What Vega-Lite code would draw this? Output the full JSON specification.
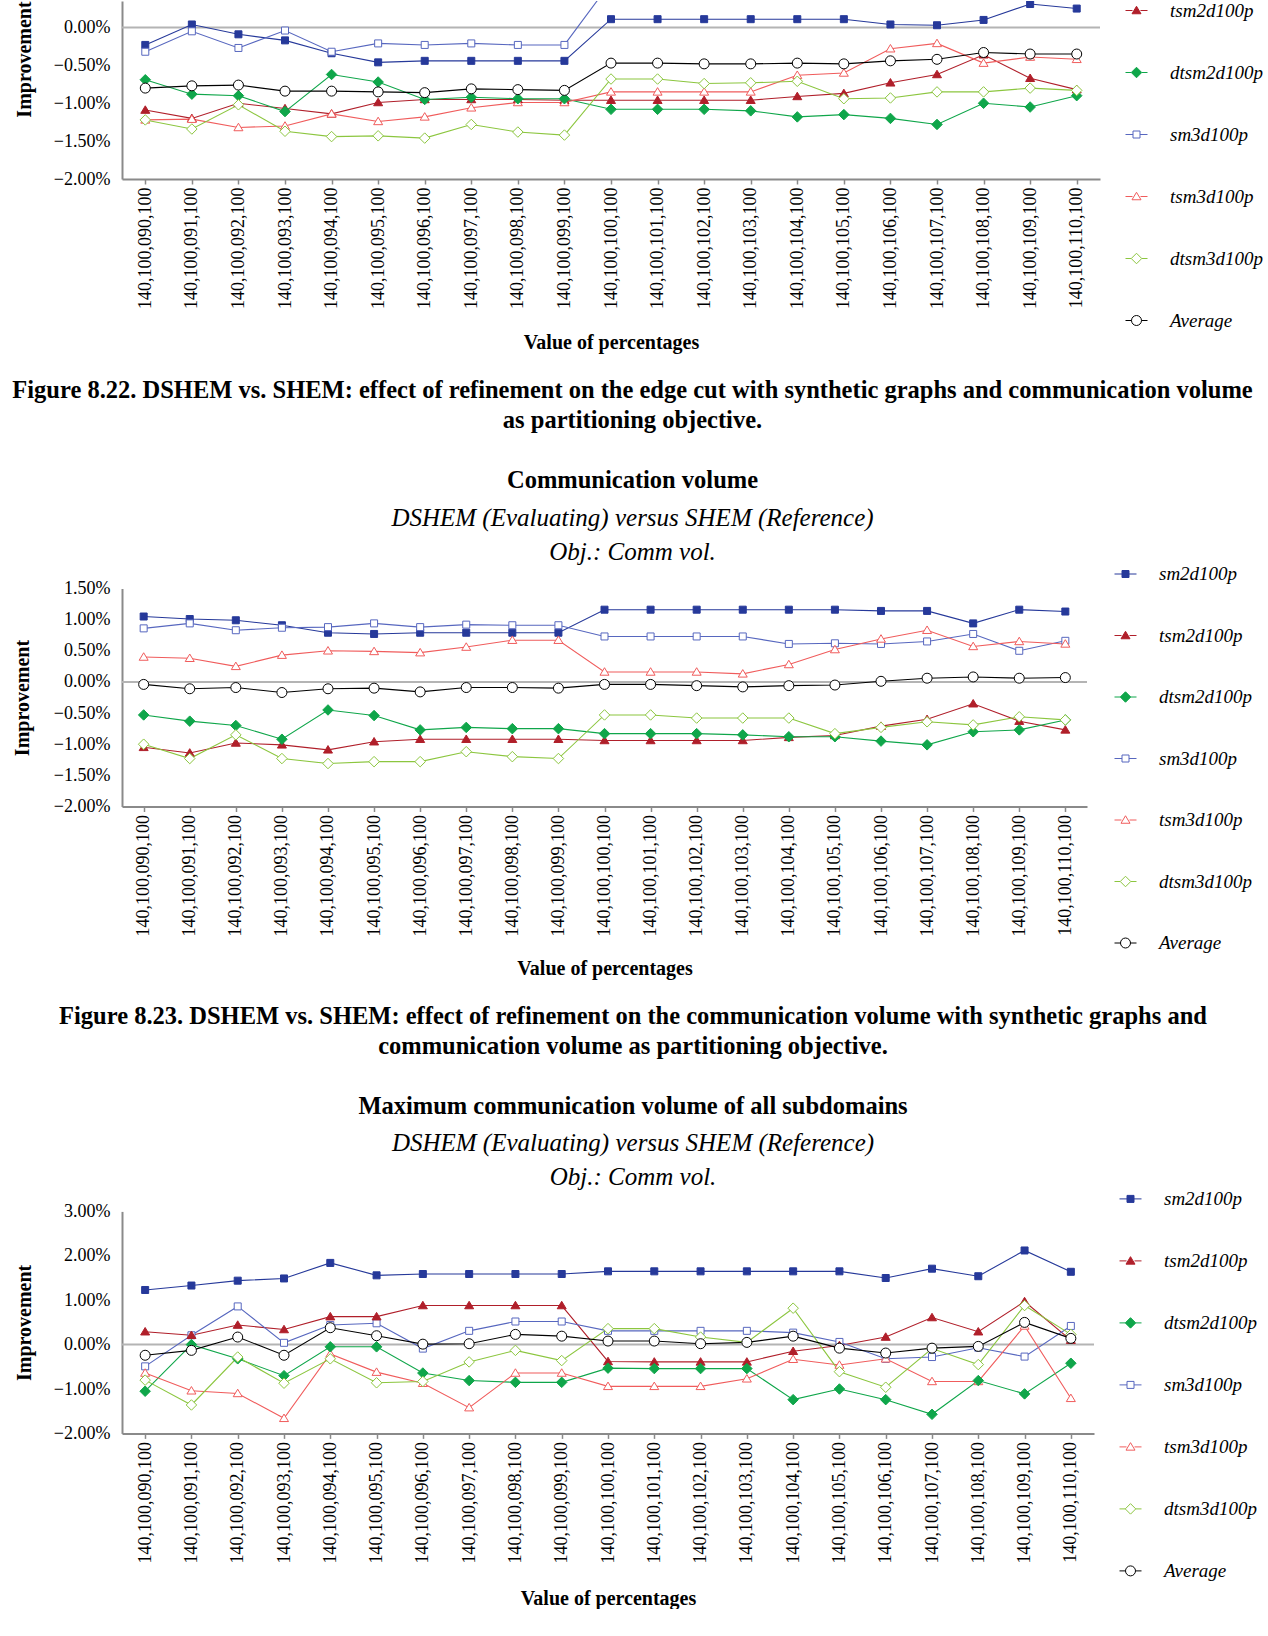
{
"$schema": "https://vega.github.io/schema/vega-lite/v6.json",
"background": "white",
"padding": {"left": 12, "top": 0, "right": 0, "bottom": 0},
"bounds": "flush",
"spacing": 409.5,
"resolve": {"scale": {"stroke": "independent", "fill": "independent", "x": "independent", "y": "independent"}},
"config": {
  "view": {"stroke": null},
  "font": "Liberation Serif",
  "axis": {"labelFont": "Liberation Serif", "titleFont": "Liberation Serif", "labelColor": "black", "titleColor": "black", "domainColor": "#8a8a8a", "domainWidth": 2, "tickColor": "#8a8a8a", "grid": false, "titleFontWeight": "bold", "titleFontSize": 20, "labelFontSize": 18},
  "axisX": {"labelAngle": -90, "tickSize": 5, "tickWidth": 1.5, "labelPadding": 3, "titlePadding": 24, "labelOverlap": false},
  "axisY": {"ticks": false, "labelPadding": 12, "titlePadding": 19},
  "legend": {"orient": "none", "labelFont": "Liberation Serif", "labelFontStyle": "italic", "labelFontSize": 19, "labelColor": "black", "symbolSize": 100, "symbolStrokeWidth": 1, "rowPadding": 42, "labelOffset": 24, "padding": 0}
},
"datasets": {
"p1": [
{"c":"140,100,090,100","s":"sm2d100p","v":-0.23},{"c":"140,100,091,100","s":"sm2d100p","v":0.04},{"c":"140,100,092,100","s":"sm2d100p","v":-0.09},{"c":"140,100,093,100","s":"sm2d100p","v":-0.17},{"c":"140,100,094,100","s":"sm2d100p","v":-0.34},{"c":"140,100,095,100","s":"sm2d100p","v":-0.46},{"c":"140,100,096,100","s":"sm2d100p","v":-0.44},{"c":"140,100,097,100","s":"sm2d100p","v":-0.44},{"c":"140,100,098,100","s":"sm2d100p","v":-0.44},{"c":"140,100,099,100","s":"sm2d100p","v":-0.44},{"c":"140,100,100,100","s":"sm2d100p","v":0.11},{"c":"140,100,101,100","s":"sm2d100p","v":0.11},{"c":"140,100,102,100","s":"sm2d100p","v":0.11},{"c":"140,100,103,100","s":"sm2d100p","v":0.11},{"c":"140,100,104,100","s":"sm2d100p","v":0.11},{"c":"140,100,105,100","s":"sm2d100p","v":0.11},{"c":"140,100,106,100","s":"sm2d100p","v":0.04},{"c":"140,100,107,100","s":"sm2d100p","v":0.03},{"c":"140,100,108,100","s":"sm2d100p","v":0.1},{"c":"140,100,109,100","s":"sm2d100p","v":0.31},{"c":"140,100,110,100","s":"sm2d100p","v":0.25},
{"c":"140,100,090,100","s":"tsm2d100p","v":-1.09},{"c":"140,100,091,100","s":"tsm2d100p","v":-1.2},{"c":"140,100,092,100","s":"tsm2d100p","v":-1.0},{"c":"140,100,093,100","s":"tsm2d100p","v":-1.07},{"c":"140,100,094,100","s":"tsm2d100p","v":-1.14},{"c":"140,100,095,100","s":"tsm2d100p","v":-0.99},{"c":"140,100,096,100","s":"tsm2d100p","v":-0.95},{"c":"140,100,097,100","s":"tsm2d100p","v":-0.95},{"c":"140,100,098,100","s":"tsm2d100p","v":-0.95},{"c":"140,100,099,100","s":"tsm2d100p","v":-0.96},{"c":"140,100,100,100","s":"tsm2d100p","v":-0.96},{"c":"140,100,101,100","s":"tsm2d100p","v":-0.96},{"c":"140,100,102,100","s":"tsm2d100p","v":-0.96},{"c":"140,100,103,100","s":"tsm2d100p","v":-0.96},{"c":"140,100,104,100","s":"tsm2d100p","v":-0.91},{"c":"140,100,105,100","s":"tsm2d100p","v":-0.87},{"c":"140,100,106,100","s":"tsm2d100p","v":-0.73},{"c":"140,100,107,100","s":"tsm2d100p","v":-0.62},{"c":"140,100,108,100","s":"tsm2d100p","v":-0.36},{"c":"140,100,109,100","s":"tsm2d100p","v":-0.67},{"c":"140,100,110,100","s":"tsm2d100p","v":-0.82},
{"c":"140,100,090,100","s":"dtsm2d100p","v":-0.69},{"c":"140,100,091,100","s":"dtsm2d100p","v":-0.88},{"c":"140,100,092,100","s":"dtsm2d100p","v":-0.9},{"c":"140,100,093,100","s":"dtsm2d100p","v":-1.11},{"c":"140,100,094,100","s":"dtsm2d100p","v":-0.62},{"c":"140,100,095,100","s":"dtsm2d100p","v":-0.72},{"c":"140,100,096,100","s":"dtsm2d100p","v":-0.95},{"c":"140,100,097,100","s":"dtsm2d100p","v":-0.92},{"c":"140,100,098,100","s":"dtsm2d100p","v":-0.94},{"c":"140,100,099,100","s":"dtsm2d100p","v":-0.94},{"c":"140,100,100,100","s":"dtsm2d100p","v":-1.08},{"c":"140,100,101,100","s":"dtsm2d100p","v":-1.08},{"c":"140,100,102,100","s":"dtsm2d100p","v":-1.08},{"c":"140,100,103,100","s":"dtsm2d100p","v":-1.1},{"c":"140,100,104,100","s":"dtsm2d100p","v":-1.18},{"c":"140,100,105,100","s":"dtsm2d100p","v":-1.15},{"c":"140,100,106,100","s":"dtsm2d100p","v":-1.2},{"c":"140,100,107,100","s":"dtsm2d100p","v":-1.28},{"c":"140,100,108,100","s":"dtsm2d100p","v":-1.0},{"c":"140,100,109,100","s":"dtsm2d100p","v":-1.05},{"c":"140,100,110,100","s":"dtsm2d100p","v":-0.9},
{"c":"140,100,090,100","s":"sm3d100p","v":-0.32},{"c":"140,100,091,100","s":"sm3d100p","v":-0.05},{"c":"140,100,092,100","s":"sm3d100p","v":-0.27},{"c":"140,100,093,100","s":"sm3d100p","v":-0.04},{"c":"140,100,094,100","s":"sm3d100p","v":-0.32},{"c":"140,100,095,100","s":"sm3d100p","v":-0.21},{"c":"140,100,096,100","s":"sm3d100p","v":-0.23},{"c":"140,100,097,100","s":"sm3d100p","v":-0.21},{"c":"140,100,098,100","s":"sm3d100p","v":-0.23},{"c":"140,100,099,100","s":"sm3d100p","v":-0.23},{"c":"140,100,100,100","s":"sm3d100p","v":0.6},{"c":"140,100,101,100","s":"sm3d100p","v":0.6},{"c":"140,100,102,100","s":"sm3d100p","v":0.6},{"c":"140,100,103,100","s":"sm3d100p","v":0.6},{"c":"140,100,104,100","s":"sm3d100p","v":0.55},{"c":"140,100,105,100","s":"sm3d100p","v":0.55},{"c":"140,100,106,100","s":"sm3d100p","v":0.55},{"c":"140,100,107,100","s":"sm3d100p","v":0.58},{"c":"140,100,108,100","s":"sm3d100p","v":0.65},{"c":"140,100,109,100","s":"sm3d100p","v":0.45},{"c":"140,100,110,100","s":"sm3d100p","v":0.55},
{"c":"140,100,090,100","s":"tsm3d100p","v":-1.22},{"c":"140,100,091,100","s":"tsm3d100p","v":-1.21},{"c":"140,100,092,100","s":"tsm3d100p","v":-1.32},{"c":"140,100,093,100","s":"tsm3d100p","v":-1.3},{"c":"140,100,094,100","s":"tsm3d100p","v":-1.14},{"c":"140,100,095,100","s":"tsm3d100p","v":-1.24},{"c":"140,100,096,100","s":"tsm3d100p","v":-1.18},{"c":"140,100,097,100","s":"tsm3d100p","v":-1.06},{"c":"140,100,098,100","s":"tsm3d100p","v":-0.99},{"c":"140,100,099,100","s":"tsm3d100p","v":-0.99},{"c":"140,100,100,100","s":"tsm3d100p","v":-0.85},{"c":"140,100,101,100","s":"tsm3d100p","v":-0.85},{"c":"140,100,102,100","s":"tsm3d100p","v":-0.85},{"c":"140,100,103,100","s":"tsm3d100p","v":-0.85},{"c":"140,100,104,100","s":"tsm3d100p","v":-0.63},{"c":"140,100,105,100","s":"tsm3d100p","v":-0.6},{"c":"140,100,106,100","s":"tsm3d100p","v":-0.28},{"c":"140,100,107,100","s":"tsm3d100p","v":-0.21},{"c":"140,100,108,100","s":"tsm3d100p","v":-0.47},{"c":"140,100,109,100","s":"tsm3d100p","v":-0.39},{"c":"140,100,110,100","s":"tsm3d100p","v":-0.42},
{"c":"140,100,090,100","s":"dtsm3d100p","v":-1.22},{"c":"140,100,091,100","s":"dtsm3d100p","v":-1.34},{"c":"140,100,092,100","s":"dtsm3d100p","v":-1.02},{"c":"140,100,093,100","s":"dtsm3d100p","v":-1.37},{"c":"140,100,094,100","s":"dtsm3d100p","v":-1.44},{"c":"140,100,095,100","s":"dtsm3d100p","v":-1.43},{"c":"140,100,096,100","s":"dtsm3d100p","v":-1.46},{"c":"140,100,097,100","s":"dtsm3d100p","v":-1.28},{"c":"140,100,098,100","s":"dtsm3d100p","v":-1.38},{"c":"140,100,099,100","s":"dtsm3d100p","v":-1.42},{"c":"140,100,100,100","s":"dtsm3d100p","v":-0.68},{"c":"140,100,101,100","s":"dtsm3d100p","v":-0.68},{"c":"140,100,102,100","s":"dtsm3d100p","v":-0.74},{"c":"140,100,103,100","s":"dtsm3d100p","v":-0.73},{"c":"140,100,104,100","s":"dtsm3d100p","v":-0.71},{"c":"140,100,105,100","s":"dtsm3d100p","v":-0.94},{"c":"140,100,106,100","s":"dtsm3d100p","v":-0.93},{"c":"140,100,107,100","s":"dtsm3d100p","v":-0.85},{"c":"140,100,108,100","s":"dtsm3d100p","v":-0.85},{"c":"140,100,109,100","s":"dtsm3d100p","v":-0.8},{"c":"140,100,110,100","s":"dtsm3d100p","v":-0.83},
{"c":"140,100,090,100","s":"Average","v":-0.8},{"c":"140,100,091,100","s":"Average","v":-0.77},{"c":"140,100,092,100","s":"Average","v":-0.76},{"c":"140,100,093,100","s":"Average","v":-0.84},{"c":"140,100,094,100","s":"Average","v":-0.84},{"c":"140,100,095,100","s":"Average","v":-0.85},{"c":"140,100,096,100","s":"Average","v":-0.86},{"c":"140,100,097,100","s":"Average","v":-0.81},{"c":"140,100,098,100","s":"Average","v":-0.82},{"c":"140,100,099,100","s":"Average","v":-0.83},{"c":"140,100,100,100","s":"Average","v":-0.47},{"c":"140,100,101,100","s":"Average","v":-0.47},{"c":"140,100,102,100","s":"Average","v":-0.48},{"c":"140,100,103,100","s":"Average","v":-0.48},{"c":"140,100,104,100","s":"Average","v":-0.47},{"c":"140,100,105,100","s":"Average","v":-0.48},{"c":"140,100,106,100","s":"Average","v":-0.44},{"c":"140,100,107,100","s":"Average","v":-0.42},{"c":"140,100,108,100","s":"Average","v":-0.33},{"c":"140,100,109,100","s":"Average","v":-0.35},{"c":"140,100,110,100","s":"Average","v":-0.35}
],
"p2": [
{"c":"140,100,090,100","s":"sm2d100p","v":1.05},{"c":"140,100,091,100","s":"sm2d100p","v":1.01},{"c":"140,100,092,100","s":"sm2d100p","v":0.99},{"c":"140,100,093,100","s":"sm2d100p","v":0.91},{"c":"140,100,094,100","s":"sm2d100p","v":0.79},{"c":"140,100,095,100","s":"sm2d100p","v":0.77},{"c":"140,100,096,100","s":"sm2d100p","v":0.79},{"c":"140,100,097,100","s":"sm2d100p","v":0.79},{"c":"140,100,098,100","s":"sm2d100p","v":0.79},{"c":"140,100,099,100","s":"sm2d100p","v":0.79},{"c":"140,100,100,100","s":"sm2d100p","v":1.16},{"c":"140,100,101,100","s":"sm2d100p","v":1.16},{"c":"140,100,102,100","s":"sm2d100p","v":1.16},{"c":"140,100,103,100","s":"sm2d100p","v":1.16},{"c":"140,100,104,100","s":"sm2d100p","v":1.16},{"c":"140,100,105,100","s":"sm2d100p","v":1.16},{"c":"140,100,106,100","s":"sm2d100p","v":1.14},{"c":"140,100,107,100","s":"sm2d100p","v":1.14},{"c":"140,100,108,100","s":"sm2d100p","v":0.94},{"c":"140,100,109,100","s":"sm2d100p","v":1.16},{"c":"140,100,110,100","s":"sm2d100p","v":1.13},
{"c":"140,100,090,100","s":"tsm2d100p","v":-1.05},{"c":"140,100,091,100","s":"tsm2d100p","v":-1.14},{"c":"140,100,092,100","s":"tsm2d100p","v":-0.98},{"c":"140,100,093,100","s":"tsm2d100p","v":-1.01},{"c":"140,100,094,100","s":"tsm2d100p","v":-1.09},{"c":"140,100,095,100","s":"tsm2d100p","v":-0.96},{"c":"140,100,096,100","s":"tsm2d100p","v":-0.92},{"c":"140,100,097,100","s":"tsm2d100p","v":-0.92},{"c":"140,100,098,100","s":"tsm2d100p","v":-0.92},{"c":"140,100,099,100","s":"tsm2d100p","v":-0.92},{"c":"140,100,100,100","s":"tsm2d100p","v":-0.94},{"c":"140,100,101,100","s":"tsm2d100p","v":-0.94},{"c":"140,100,102,100","s":"tsm2d100p","v":-0.94},{"c":"140,100,103,100","s":"tsm2d100p","v":-0.94},{"c":"140,100,104,100","s":"tsm2d100p","v":-0.89},{"c":"140,100,105,100","s":"tsm2d100p","v":-0.86},{"c":"140,100,106,100","s":"tsm2d100p","v":-0.71},{"c":"140,100,107,100","s":"tsm2d100p","v":-0.6},{"c":"140,100,108,100","s":"tsm2d100p","v":-0.35},{"c":"140,100,109,100","s":"tsm2d100p","v":-0.63},{"c":"140,100,110,100","s":"tsm2d100p","v":-0.77},
{"c":"140,100,090,100","s":"dtsm2d100p","v":-0.53},{"c":"140,100,091,100","s":"dtsm2d100p","v":-0.63},{"c":"140,100,092,100","s":"dtsm2d100p","v":-0.7},{"c":"140,100,093,100","s":"dtsm2d100p","v":-0.92},{"c":"140,100,094,100","s":"dtsm2d100p","v":-0.45},{"c":"140,100,095,100","s":"dtsm2d100p","v":-0.54},{"c":"140,100,096,100","s":"dtsm2d100p","v":-0.77},{"c":"140,100,097,100","s":"dtsm2d100p","v":-0.73},{"c":"140,100,098,100","s":"dtsm2d100p","v":-0.75},{"c":"140,100,099,100","s":"dtsm2d100p","v":-0.75},{"c":"140,100,100,100","s":"dtsm2d100p","v":-0.83},{"c":"140,100,101,100","s":"dtsm2d100p","v":-0.83},{"c":"140,100,102,100","s":"dtsm2d100p","v":-0.83},{"c":"140,100,103,100","s":"dtsm2d100p","v":-0.85},{"c":"140,100,104,100","s":"dtsm2d100p","v":-0.88},{"c":"140,100,105,100","s":"dtsm2d100p","v":-0.88},{"c":"140,100,106,100","s":"dtsm2d100p","v":-0.95},{"c":"140,100,107,100","s":"dtsm2d100p","v":-1.01},{"c":"140,100,108,100","s":"dtsm2d100p","v":-0.8},{"c":"140,100,109,100","s":"dtsm2d100p","v":-0.77},{"c":"140,100,110,100","s":"dtsm2d100p","v":-0.61},
{"c":"140,100,090,100","s":"sm3d100p","v":0.86},{"c":"140,100,091,100","s":"sm3d100p","v":0.94},{"c":"140,100,092,100","s":"sm3d100p","v":0.83},{"c":"140,100,093,100","s":"sm3d100p","v":0.87},{"c":"140,100,094,100","s":"sm3d100p","v":0.88},{"c":"140,100,095,100","s":"sm3d100p","v":0.94},{"c":"140,100,096,100","s":"sm3d100p","v":0.88},{"c":"140,100,097,100","s":"sm3d100p","v":0.92},{"c":"140,100,098,100","s":"sm3d100p","v":0.91},{"c":"140,100,099,100","s":"sm3d100p","v":0.91},{"c":"140,100,100,100","s":"sm3d100p","v":0.73},{"c":"140,100,101,100","s":"sm3d100p","v":0.73},{"c":"140,100,102,100","s":"sm3d100p","v":0.73},{"c":"140,100,103,100","s":"sm3d100p","v":0.73},{"c":"140,100,104,100","s":"sm3d100p","v":0.61},{"c":"140,100,105,100","s":"sm3d100p","v":0.62},{"c":"140,100,106,100","s":"sm3d100p","v":0.61},{"c":"140,100,107,100","s":"sm3d100p","v":0.65},{"c":"140,100,108,100","s":"sm3d100p","v":0.77},{"c":"140,100,109,100","s":"sm3d100p","v":0.5},{"c":"140,100,110,100","s":"sm3d100p","v":0.66},
{"c":"140,100,090,100","s":"tsm3d100p","v":0.4},{"c":"140,100,091,100","s":"tsm3d100p","v":0.38},{"c":"140,100,092,100","s":"tsm3d100p","v":0.25},{"c":"140,100,093,100","s":"tsm3d100p","v":0.43},{"c":"140,100,094,100","s":"tsm3d100p","v":0.5},{"c":"140,100,095,100","s":"tsm3d100p","v":0.49},{"c":"140,100,096,100","s":"tsm3d100p","v":0.47},{"c":"140,100,097,100","s":"tsm3d100p","v":0.56},{"c":"140,100,098,100","s":"tsm3d100p","v":0.67},{"c":"140,100,099,100","s":"tsm3d100p","v":0.67},{"c":"140,100,100,100","s":"tsm3d100p","v":0.16},{"c":"140,100,101,100","s":"tsm3d100p","v":0.16},{"c":"140,100,102,100","s":"tsm3d100p","v":0.16},{"c":"140,100,103,100","s":"tsm3d100p","v":0.13},{"c":"140,100,104,100","s":"tsm3d100p","v":0.28},{"c":"140,100,105,100","s":"tsm3d100p","v":0.52},{"c":"140,100,106,100","s":"tsm3d100p","v":0.69},{"c":"140,100,107,100","s":"tsm3d100p","v":0.83},{"c":"140,100,108,100","s":"tsm3d100p","v":0.57},{"c":"140,100,109,100","s":"tsm3d100p","v":0.65},{"c":"140,100,110,100","s":"tsm3d100p","v":0.61},
{"c":"140,100,090,100","s":"dtsm3d100p","v":-1.0},{"c":"140,100,091,100","s":"dtsm3d100p","v":-1.23},{"c":"140,100,092,100","s":"dtsm3d100p","v":-0.85},{"c":"140,100,093,100","s":"dtsm3d100p","v":-1.23},{"c":"140,100,094,100","s":"dtsm3d100p","v":-1.31},{"c":"140,100,095,100","s":"dtsm3d100p","v":-1.28},{"c":"140,100,096,100","s":"dtsm3d100p","v":-1.28},{"c":"140,100,097,100","s":"dtsm3d100p","v":-1.12},{"c":"140,100,098,100","s":"dtsm3d100p","v":-1.2},{"c":"140,100,099,100","s":"dtsm3d100p","v":-1.23},{"c":"140,100,100,100","s":"dtsm3d100p","v":-0.53},{"c":"140,100,101,100","s":"dtsm3d100p","v":-0.53},{"c":"140,100,102,100","s":"dtsm3d100p","v":-0.58},{"c":"140,100,103,100","s":"dtsm3d100p","v":-0.58},{"c":"140,100,104,100","s":"dtsm3d100p","v":-0.58},{"c":"140,100,105,100","s":"dtsm3d100p","v":-0.83},{"c":"140,100,106,100","s":"dtsm3d100p","v":-0.73},{"c":"140,100,107,100","s":"dtsm3d100p","v":-0.64},{"c":"140,100,108,100","s":"dtsm3d100p","v":-0.69},{"c":"140,100,109,100","s":"dtsm3d100p","v":-0.56},{"c":"140,100,110,100","s":"dtsm3d100p","v":-0.61},
{"c":"140,100,090,100","s":"Average","v":-0.04},{"c":"140,100,091,100","s":"Average","v":-0.11},{"c":"140,100,092,100","s":"Average","v":-0.09},{"c":"140,100,093,100","s":"Average","v":-0.17},{"c":"140,100,094,100","s":"Average","v":-0.11},{"c":"140,100,095,100","s":"Average","v":-0.1},{"c":"140,100,096,100","s":"Average","v":-0.16},{"c":"140,100,097,100","s":"Average","v":-0.09},{"c":"140,100,098,100","s":"Average","v":-0.09},{"c":"140,100,099,100","s":"Average","v":-0.1},{"c":"140,100,100,100","s":"Average","v":-0.04},{"c":"140,100,101,100","s":"Average","v":-0.04},{"c":"140,100,102,100","s":"Average","v":-0.06},{"c":"140,100,103,100","s":"Average","v":-0.08},{"c":"140,100,104,100","s":"Average","v":-0.06},{"c":"140,100,105,100","s":"Average","v":-0.05},{"c":"140,100,106,100","s":"Average","v":0.01},{"c":"140,100,107,100","s":"Average","v":0.06},{"c":"140,100,108,100","s":"Average","v":0.08},{"c":"140,100,109,100","s":"Average","v":0.06},{"c":"140,100,110,100","s":"Average","v":0.07}
],
"p3": [
{"c":"140,100,090,100","s":"sm2d100p","v":1.23},{"c":"140,100,091,100","s":"sm2d100p","v":1.33},{"c":"140,100,092,100","s":"sm2d100p","v":1.44},{"c":"140,100,093,100","s":"sm2d100p","v":1.49},{"c":"140,100,094,100","s":"sm2d100p","v":1.84},{"c":"140,100,095,100","s":"sm2d100p","v":1.56},{"c":"140,100,096,100","s":"sm2d100p","v":1.59},{"c":"140,100,097,100","s":"sm2d100p","v":1.59},{"c":"140,100,098,100","s":"sm2d100p","v":1.59},{"c":"140,100,099,100","s":"sm2d100p","v":1.59},{"c":"140,100,100,100","s":"sm2d100p","v":1.65},{"c":"140,100,101,100","s":"sm2d100p","v":1.65},{"c":"140,100,102,100","s":"sm2d100p","v":1.65},{"c":"140,100,103,100","s":"sm2d100p","v":1.65},{"c":"140,100,104,100","s":"sm2d100p","v":1.65},{"c":"140,100,105,100","s":"sm2d100p","v":1.65},{"c":"140,100,106,100","s":"sm2d100p","v":1.5},{"c":"140,100,107,100","s":"sm2d100p","v":1.71},{"c":"140,100,108,100","s":"sm2d100p","v":1.54},{"c":"140,100,109,100","s":"sm2d100p","v":2.12},{"c":"140,100,110,100","s":"sm2d100p","v":1.64},
{"c":"140,100,090,100","s":"tsm2d100p","v":0.29},{"c":"140,100,091,100","s":"tsm2d100p","v":0.21},{"c":"140,100,092,100","s":"tsm2d100p","v":0.44},{"c":"140,100,093,100","s":"tsm2d100p","v":0.34},{"c":"140,100,094,100","s":"tsm2d100p","v":0.63},{"c":"140,100,095,100","s":"tsm2d100p","v":0.63},{"c":"140,100,096,100","s":"tsm2d100p","v":0.88},{"c":"140,100,097,100","s":"tsm2d100p","v":0.88},{"c":"140,100,098,100","s":"tsm2d100p","v":0.88},{"c":"140,100,099,100","s":"tsm2d100p","v":0.88},{"c":"140,100,100,100","s":"tsm2d100p","v":-0.38},{"c":"140,100,101,100","s":"tsm2d100p","v":-0.39},{"c":"140,100,102,100","s":"tsm2d100p","v":-0.39},{"c":"140,100,103,100","s":"tsm2d100p","v":-0.39},{"c":"140,100,104,100","s":"tsm2d100p","v":-0.15},{"c":"140,100,105,100","s":"tsm2d100p","v":-0.02},{"c":"140,100,106,100","s":"tsm2d100p","v":0.17},{"c":"140,100,107,100","s":"tsm2d100p","v":0.61},{"c":"140,100,108,100","s":"tsm2d100p","v":0.29},{"c":"140,100,109,100","s":"tsm2d100p","v":0.97},{"c":"140,100,110,100","s":"tsm2d100p","v":0.1},
{"c":"140,100,090,100","s":"dtsm2d100p","v":-1.05},{"c":"140,100,091,100","s":"dtsm2d100p","v":0.0},{"c":"140,100,092,100","s":"dtsm2d100p","v":-0.32},{"c":"140,100,093,100","s":"dtsm2d100p","v":-0.7},{"c":"140,100,094,100","s":"dtsm2d100p","v":-0.05},{"c":"140,100,095,100","s":"dtsm2d100p","v":-0.05},{"c":"140,100,096,100","s":"dtsm2d100p","v":-0.64},{"c":"140,100,097,100","s":"dtsm2d100p","v":-0.81},{"c":"140,100,098,100","s":"dtsm2d100p","v":-0.85},{"c":"140,100,099,100","s":"dtsm2d100p","v":-0.85},{"c":"140,100,100,100","s":"dtsm2d100p","v":-0.53},{"c":"140,100,101,100","s":"dtsm2d100p","v":-0.54},{"c":"140,100,102,100","s":"dtsm2d100p","v":-0.54},{"c":"140,100,103,100","s":"dtsm2d100p","v":-0.54},{"c":"140,100,104,100","s":"dtsm2d100p","v":-1.24},{"c":"140,100,105,100","s":"dtsm2d100p","v":-1.0},{"c":"140,100,106,100","s":"dtsm2d100p","v":-1.24},{"c":"140,100,107,100","s":"dtsm2d100p","v":-1.57},{"c":"140,100,108,100","s":"dtsm2d100p","v":-0.81},{"c":"140,100,109,100","s":"dtsm2d100p","v":-1.11},{"c":"140,100,110,100","s":"dtsm2d100p","v":-0.42},
{"c":"140,100,090,100","s":"sm3d100p","v":-0.49},{"c":"140,100,091,100","s":"sm3d100p","v":0.21},{"c":"140,100,092,100","s":"sm3d100p","v":0.86},{"c":"140,100,093,100","s":"sm3d100p","v":0.04},{"c":"140,100,094,100","s":"sm3d100p","v":0.44},{"c":"140,100,095,100","s":"sm3d100p","v":0.48},{"c":"140,100,096,100","s":"sm3d100p","v":-0.09},{"c":"140,100,097,100","s":"sm3d100p","v":0.31},{"c":"140,100,098,100","s":"sm3d100p","v":0.52},{"c":"140,100,099,100","s":"sm3d100p","v":0.52},{"c":"140,100,100,100","s":"sm3d100p","v":0.31},{"c":"140,100,101,100","s":"sm3d100p","v":0.31},{"c":"140,100,102,100","s":"sm3d100p","v":0.31},{"c":"140,100,103,100","s":"sm3d100p","v":0.31},{"c":"140,100,104,100","s":"sm3d100p","v":0.27},{"c":"140,100,105,100","s":"sm3d100p","v":0.06},{"c":"140,100,106,100","s":"sm3d100p","v":-0.32},{"c":"140,100,107,100","s":"sm3d100p","v":-0.28},{"c":"140,100,108,100","s":"sm3d100p","v":-0.07},{"c":"140,100,109,100","s":"sm3d100p","v":-0.27},{"c":"140,100,110,100","s":"sm3d100p","v":0.42},
{"c":"140,100,090,100","s":"tsm3d100p","v":-0.64},{"c":"140,100,091,100","s":"tsm3d100p","v":-1.04},{"c":"140,100,092,100","s":"tsm3d100p","v":-1.1},{"c":"140,100,093,100","s":"tsm3d100p","v":-1.66},{"c":"140,100,094,100","s":"tsm3d100p","v":-0.21},{"c":"140,100,095,100","s":"tsm3d100p","v":-0.62},{"c":"140,100,096,100","s":"tsm3d100p","v":-0.87},{"c":"140,100,097,100","s":"tsm3d100p","v":-1.42},{"c":"140,100,098,100","s":"tsm3d100p","v":-0.64},{"c":"140,100,099,100","s":"tsm3d100p","v":-0.64},{"c":"140,100,100,100","s":"tsm3d100p","v":-0.94},{"c":"140,100,101,100","s":"tsm3d100p","v":-0.94},{"c":"140,100,102,100","s":"tsm3d100p","v":-0.94},{"c":"140,100,103,100","s":"tsm3d100p","v":-0.77},{"c":"140,100,104,100","s":"tsm3d100p","v":-0.33},{"c":"140,100,105,100","s":"tsm3d100p","v":-0.46},{"c":"140,100,106,100","s":"tsm3d100p","v":-0.32},{"c":"140,100,107,100","s":"tsm3d100p","v":-0.83},{"c":"140,100,108,100","s":"tsm3d100p","v":-0.83},{"c":"140,100,109,100","s":"tsm3d100p","v":0.42},{"c":"140,100,110,100","s":"tsm3d100p","v":-1.21},
{"c":"140,100,090,100","s":"dtsm3d100p","v":-0.8},{"c":"140,100,091,100","s":"dtsm3d100p","v":-1.36},{"c":"140,100,092,100","s":"dtsm3d100p","v":-0.28},{"c":"140,100,093,100","s":"dtsm3d100p","v":-0.87},{"c":"140,100,094,100","s":"dtsm3d100p","v":-0.32},{"c":"140,100,095,100","s":"dtsm3d100p","v":-0.86},{"c":"140,100,096,100","s":"dtsm3d100p","v":-0.83},{"c":"140,100,097,100","s":"dtsm3d100p","v":-0.39},{"c":"140,100,098,100","s":"dtsm3d100p","v":-0.13},{"c":"140,100,099,100","s":"dtsm3d100p","v":-0.36},{"c":"140,100,100,100","s":"dtsm3d100p","v":0.36},{"c":"140,100,101,100","s":"dtsm3d100p","v":0.36},{"c":"140,100,102,100","s":"dtsm3d100p","v":0.17},{"c":"140,100,103,100","s":"dtsm3d100p","v":0.05},{"c":"140,100,104,100","s":"dtsm3d100p","v":0.82},{"c":"140,100,105,100","s":"dtsm3d100p","v":-0.61},{"c":"140,100,106,100","s":"dtsm3d100p","v":-0.96},{"c":"140,100,107,100","s":"dtsm3d100p","v":-0.09},{"c":"140,100,108,100","s":"dtsm3d100p","v":-0.45},{"c":"140,100,109,100","s":"dtsm3d100p","v":0.88},{"c":"140,100,110,100","s":"dtsm3d100p","v":0.23},
{"c":"140,100,090,100","s":"Average","v":-0.24},{"c":"140,100,091,100","s":"Average","v":-0.13},{"c":"140,100,092,100","s":"Average","v":0.17},{"c":"140,100,093,100","s":"Average","v":-0.24},{"c":"140,100,094,100","s":"Average","v":0.38},{"c":"140,100,095,100","s":"Average","v":0.2},{"c":"140,100,096,100","s":"Average","v":0.01},{"c":"140,100,097,100","s":"Average","v":0.02},{"c":"140,100,098,100","s":"Average","v":0.23},{"c":"140,100,099,100","s":"Average","v":0.19},{"c":"140,100,100,100","s":"Average","v":0.08},{"c":"140,100,101,100","s":"Average","v":0.08},{"c":"140,100,102,100","s":"Average","v":0.02},{"c":"140,100,103,100","s":"Average","v":0.05},{"c":"140,100,104,100","s":"Average","v":0.19},{"c":"140,100,105,100","s":"Average","v":-0.08},{"c":"140,100,106,100","s":"Average","v":-0.19},{"c":"140,100,107,100","s":"Average","v":-0.08},{"c":"140,100,108,100","s":"Average","v":-0.04},{"c":"140,100,109,100","s":"Average","v":0.5},{"c":"140,100,110,100","s":"Average","v":0.14}
]
},
"vconcat": [
{
 "width": 978, "height": 178,
 "layer": [
  {"data": {"values": [{"v": 0}]}, "mark": {"type": "rule", "color": "#b4b4b4", "strokeWidth": 2}, "encoding": {"y": {"field": "v", "type": "quantitative", "scale": {"domain": [-2, 0.35], "nice": false, "zero": false}, "axis": {"title": "Improvement", "values": [-2, -1.5, -1, -0.5, 0], "format": ".2f", "labelExpr": "datum.label + '%'", "titleY": 58}}}},
  {"data": {"name": "p1"},
   "encoding": {
    "x": {"field": "c", "type": "ordinal", "scale": {"type": "point", "padding": 0.5}, "axis": {"title": "Value of percentages"}},
    "y": {"field": "v", "type": "quantitative", "scale": {"domain": [-2, 0.35], "nice": false, "zero": false}, "axis": {"title": "Improvement", "values": [-2, -1.5, -1, -0.5, 0], "format": ".2f", "labelExpr": "datum.label + '%'", "titleY": 58}},
    "stroke": {"field": "s", "type": "nominal", "scale": {"domain": ["sm2d100p","tsm2d100p","dtsm2d100p","sm3d100p","tsm3d100p","dtsm3d100p","Average"], "range": ["#26399a","#b01f2a","#0fa64a","#5767bf","#f05c5c","#8cc63f","#000000"]},
      "legend": {"title": null, "values": ["tsm2d100p","dtsm2d100p","sm3d100p","tsm3d100p","dtsm3d100p","Average"], "legendX": 1005, "legendY": 0,
        "encode": {"symbols": {"update": {"shape": {"signal": "datum.value === 'Average' ? 'M-2.2,0H-1M1,0H2.2M1,0A1,1,0,1,1,-1,0A1,1,0,1,1,1,0Z' : indexof(datum.value, 'dtsm') === 0 ? 'M-2.2,0H-1.05M1.05,0H2.2M0,-1.05L1.05,0L0,1.05L-1.05,0Z' : indexof(datum.value, 'tsm') === 0 ? 'M-2.2,0H-0.8M0.8,0H2.2M0,-0.85L0.9,0.65H-0.9Z' : 'M-2.2,0H-0.7M0.7,0H2.2M-0.7,-0.7H0.7V0.7H-0.7Z'"}}}}}}
   },
   "layer": [
    {"mark": {"type": "line", "strokeWidth": 1.1, "clip": true}, "encoding": {}},
    {"transform": [{"filter": {"field": "s", "oneOf": ["sm2d100p", "sm3d100p"]}}], "mark": {"type": "point", "shape": "M-0.7,-0.7H0.7V0.7H-0.7Z", "filled": true, "opacity": 1, "size": 100, "strokeWidth": 1, "clip": true},
     "encoding": {"fill": {"field": "s", "type": "nominal", "scale": {"domain": ["sm2d100p","tsm2d100p","dtsm2d100p","sm3d100p","tsm3d100p","dtsm3d100p","Average"], "range": ["#26399a","#b01f2a","#0fa64a","#ffffff","#ffffff","#ffffff","#ffffff"]}}}},
    {"transform": [{"filter": {"field": "s", "oneOf": ["tsm2d100p", "tsm3d100p"]}}], "mark": {"type": "point", "shape": "M0,-0.85L0.9,0.65H-0.9Z", "filled": true, "opacity": 1, "size": 100, "strokeWidth": 1, "clip": true},
     "encoding": {"fill": {"field": "s", "type": "nominal", "scale": {"domain": ["sm2d100p","tsm2d100p","dtsm2d100p","sm3d100p","tsm3d100p","dtsm3d100p","Average"], "range": ["#26399a","#b01f2a","#0fa64a","#ffffff","#ffffff","#ffffff","#ffffff"]}}}},
    {"transform": [{"filter": {"field": "s", "oneOf": ["dtsm2d100p", "dtsm3d100p"]}}], "mark": {"type": "point", "shape": "M0,-1.05L1.05,0L0,1.05L-1.05,0Z", "filled": true, "opacity": 1, "size": 100, "strokeWidth": 1, "clip": true},
     "encoding": {"fill": {"field": "s", "type": "nominal", "scale": {"domain": ["sm2d100p","tsm2d100p","dtsm2d100p","sm3d100p","tsm3d100p","dtsm3d100p","Average"], "range": ["#26399a","#b01f2a","#0fa64a","#ffffff","#ffffff","#ffffff","#ffffff"]}}}},
    {"transform": [{"filter": {"field": "s", "oneOf": ["Average"]}}], "mark": {"type": "point", "shape": "M1,0A1,1,0,1,1,-1,0A1,1,0,1,1,1,0Z", "filled": true, "opacity": 1, "size": 100, "strokeWidth": 1, "clip": true},
     "encoding": {"fill": {"field": "s", "type": "nominal", "scale": {"domain": ["sm2d100p","tsm2d100p","dtsm2d100p","sm3d100p","tsm3d100p","dtsm3d100p","Average"], "range": ["#26399a","#b01f2a","#0fa64a","#ffffff","#ffffff","#ffffff","#ffffff"]}}}}
   ]
  }
 ]
},
{
 "spacing": 404.9,
 "bounds": "flush",
 "resolve": {"scale": {"stroke": "independent", "fill": "independent", "x": "independent", "y": "independent"}},
 "vconcat": [
 {
  "width": 965, "height": 218,
  "title": {"text": ["Figure 8.22. DSHEM vs. SHEM: effect of refinement on the edge cut with synthetic graphs and communication volume", "as partitioning objective.", "\u200b", "Communication volume"],
    "subtitle": ["DSHEM (Evaluating) versus SHEM (Reference)", "Obj.: Comm vol."],
    "anchor": "middle", "frame": "group", "dx": 28, "offset": -1, "limit": 2000,
    "font": "Liberation Serif", "fontSize": 24.5, "fontWeight": "bold", "lineHeight": 30, "color": "black",
    "subtitleFont": "Liberation Serif", "subtitleFontSize": 25, "subtitleFontStyle": "italic", "subtitleLineHeight": 34, "subtitlePadding": 12, "subtitleColor": "black"},
  "layer": [
   {"data": {"values": [{"v": 0}]}, "mark": {"type": "rule", "color": "#b4b4b4", "strokeWidth": 2}, "encoding": {"y": {"field": "v", "type": "quantitative", "scale": {"domain": [-2, 1.5], "nice": false, "zero": false}, "axis": {"title": "Improvement", "values": [-2, -1.5, -1, -0.5, 0, 0.5, 1, 1.5], "format": ".2f", "labelExpr": "datum.label + '%'", "titlePadding": 21}}}},
   {"data": {"name": "p2"},
    "encoding": {
     "x": {"field": "c", "type": "ordinal", "scale": {"type": "point", "padding": 0.47}, "axis": {"title": "Value of percentages", "titlePadding": 22}},
     "y": {"field": "v", "type": "quantitative", "scale": {"domain": [-2, 1.5], "nice": false, "zero": false}, "axis": {"title": "Improvement", "values": [-2, -1.5, -1, -0.5, 0, 0.5, 1, 1.5], "format": ".2f", "labelExpr": "datum.label + '%'", "titlePadding": 21}},
     "stroke": {"field": "s", "type": "nominal", "scale": {"domain": ["sm2d100p","tsm2d100p","dtsm2d100p","sm3d100p","tsm3d100p","dtsm3d100p","Average"], "range": ["#26399a","#b01f2a","#0fa64a","#5767bf","#f05c5c","#8cc63f","#000000"]},
       "legend": {"title": null, "legendX": 994, "legendY": -24, "rowPadding": 41.5,
         "encode": {"symbols": {"update": {"shape": {"signal": "datum.value === 'Average' ? 'M-2.2,0H-1M1,0H2.2M1,0A1,1,0,1,1,-1,0A1,1,0,1,1,1,0Z' : indexof(datum.value, 'dtsm') === 0 ? 'M-2.2,0H-1.05M1.05,0H2.2M0,-1.05L1.05,0L0,1.05L-1.05,0Z' : indexof(datum.value, 'tsm') === 0 ? 'M-2.2,0H-0.8M0.8,0H2.2M0,-0.85L0.9,0.65H-0.9Z' : 'M-2.2,0H-0.7M0.7,0H2.2M-0.7,-0.7H0.7V0.7H-0.7Z'"}}}}}}
    },
    "layer": [
     {"mark": {"type": "line", "strokeWidth": 1.1, "clip": true}, "encoding": {}},
     {"transform": [{"filter": {"field": "s", "oneOf": ["sm2d100p", "sm3d100p"]}}], "mark": {"type": "point", "shape": "M-0.7,-0.7H0.7V0.7H-0.7Z", "filled": true, "opacity": 1, "size": 100, "strokeWidth": 1, "clip": true},
      "encoding": {"fill": {"field": "s", "type": "nominal", "scale": {"domain": ["sm2d100p","tsm2d100p","dtsm2d100p","sm3d100p","tsm3d100p","dtsm3d100p","Average"], "range": ["#26399a","#b01f2a","#0fa64a","#ffffff","#ffffff","#ffffff","#ffffff"]}}}},
     {"transform": [{"filter": {"field": "s", "oneOf": ["tsm2d100p", "tsm3d100p"]}}], "mark": {"type": "point", "shape": "M0,-0.85L0.9,0.65H-0.9Z", "filled": true, "opacity": 1, "size": 100, "strokeWidth": 1, "clip": true},
      "encoding": {"fill": {"field": "s", "type": "nominal", "scale": {"domain": ["sm2d100p","tsm2d100p","dtsm2d100p","sm3d100p","tsm3d100p","dtsm3d100p","Average"], "range": ["#26399a","#b01f2a","#0fa64a","#ffffff","#ffffff","#ffffff","#ffffff"]}}}},
     {"transform": [{"filter": {"field": "s", "oneOf": ["dtsm2d100p", "dtsm3d100p"]}}], "mark": {"type": "point", "shape": "M0,-1.05L1.05,0L0,1.05L-1.05,0Z", "filled": true, "opacity": 1, "size": 100, "strokeWidth": 1, "clip": true},
      "encoding": {"fill": {"field": "s", "type": "nominal", "scale": {"domain": ["sm2d100p","tsm2d100p","dtsm2d100p","sm3d100p","tsm3d100p","dtsm3d100p","Average"], "range": ["#26399a","#b01f2a","#0fa64a","#ffffff","#ffffff","#ffffff","#ffffff"]}}}},
     {"transform": [{"filter": {"field": "s", "oneOf": ["Average"]}}], "mark": {"type": "point", "shape": "M1,0A1,1,0,1,1,-1,0A1,1,0,1,1,1,0Z", "filled": true, "opacity": 1, "size": 100, "strokeWidth": 1, "clip": true},
      "encoding": {"fill": {"field": "s", "type": "nominal", "scale": {"domain": ["sm2d100p","tsm2d100p","dtsm2d100p","sm3d100p","tsm3d100p","dtsm3d100p","Average"], "range": ["#26399a","#b01f2a","#0fa64a","#ffffff","#ffffff","#ffffff","#ffffff"]}}}}
    ]
   }
  ]
 },
 {
  "width": 972, "height": 222,
  "title": {"text": ["Figure 8.23. DSHEM vs. SHEM: effect of refinement on the communication volume with synthetic graphs and", "communication volume as partitioning objective.", "\u200b", "Maximum communication volume of all subdomains"],
    "subtitle": ["DSHEM (Evaluating) versus SHEM (Reference)", "Obj.: Comm vol."],
    "anchor": "middle", "frame": "group", "dx": 25, "offset": -2, "limit": 2000,
    "font": "Liberation Serif", "fontSize": 24.5, "fontWeight": "bold", "lineHeight": 30, "color": "black",
    "subtitleFont": "Liberation Serif", "subtitleFontSize": 25, "subtitleFontStyle": "italic", "subtitleLineHeight": 34, "subtitlePadding": 12, "subtitleColor": "black"},
  "layer": [
   {"data": {"values": [{"v": 0}]}, "mark": {"type": "rule", "color": "#b4b4b4", "strokeWidth": 2}, "encoding": {"y": {"field": "v", "type": "quantitative", "scale": {"domain": [-2, 3], "nice": false, "zero": false}, "axis": {"title": "Improvement", "values": [-2, -1, 0, 1, 2, 3], "format": ".2f", "labelExpr": "datum.label + '%'"}}}},
   {"data": {"name": "p3"},
    "encoding": {
     "x": {"field": "c", "type": "ordinal", "scale": {"type": "point", "padding": 0.5}, "axis": {"title": "Value of percentages", "titlePadding": 26}},
     "y": {"field": "v", "type": "quantitative", "scale": {"domain": [-2, 3], "nice": false, "zero": false}, "axis": {"title": "Improvement", "values": [-2, -1, 0, 1, 2, 3], "format": ".2f", "labelExpr": "datum.label + '%'"}},
     "stroke": {"field": "s", "type": "nominal", "scale": {"domain": ["sm2d100p","tsm2d100p","dtsm2d100p","sm3d100p","tsm3d100p","dtsm3d100p","Average"], "range": ["#26399a","#b01f2a","#0fa64a","#5767bf","#f05c5c","#8cc63f","#000000"]},
       "legend": {"title": null, "legendX": 999, "legendY": -22,
         "encode": {"symbols": {"update": {"shape": {"signal": "datum.value === 'Average' ? 'M-2.2,0H-1M1,0H2.2M1,0A1,1,0,1,1,-1,0A1,1,0,1,1,1,0Z' : indexof(datum.value, 'dtsm') === 0 ? 'M-2.2,0H-1.05M1.05,0H2.2M0,-1.05L1.05,0L0,1.05L-1.05,0Z' : indexof(datum.value, 'tsm') === 0 ? 'M-2.2,0H-0.8M0.8,0H2.2M0,-0.85L0.9,0.65H-0.9Z' : 'M-2.2,0H-0.7M0.7,0H2.2M-0.7,-0.7H0.7V0.7H-0.7Z'"}}}}}}
    },
    "layer": [
     {"mark": {"type": "line", "strokeWidth": 1.1, "clip": true}, "encoding": {}},
     {"transform": [{"filter": {"field": "s", "oneOf": ["sm2d100p", "sm3d100p"]}}], "mark": {"type": "point", "shape": "M-0.7,-0.7H0.7V0.7H-0.7Z", "filled": true, "opacity": 1, "size": 100, "strokeWidth": 1, "clip": true},
      "encoding": {"fill": {"field": "s", "type": "nominal", "scale": {"domain": ["sm2d100p","tsm2d100p","dtsm2d100p","sm3d100p","tsm3d100p","dtsm3d100p","Average"], "range": ["#26399a","#b01f2a","#0fa64a","#ffffff","#ffffff","#ffffff","#ffffff"]}}}},
     {"transform": [{"filter": {"field": "s", "oneOf": ["tsm2d100p", "tsm3d100p"]}}], "mark": {"type": "point", "shape": "M0,-0.85L0.9,0.65H-0.9Z", "filled": true, "opacity": 1, "size": 100, "strokeWidth": 1, "clip": true},
      "encoding": {"fill": {"field": "s", "type": "nominal", "scale": {"domain": ["sm2d100p","tsm2d100p","dtsm2d100p","sm3d100p","tsm3d100p","dtsm3d100p","Average"], "range": ["#26399a","#b01f2a","#0fa64a","#ffffff","#ffffff","#ffffff","#ffffff"]}}}},
     {"transform": [{"filter": {"field": "s", "oneOf": ["dtsm2d100p", "dtsm3d100p"]}}], "mark": {"type": "point", "shape": "M0,-1.05L1.05,0L0,1.05L-1.05,0Z", "filled": true, "opacity": 1, "size": 100, "strokeWidth": 1, "clip": true},
      "encoding": {"fill": {"field": "s", "type": "nominal", "scale": {"domain": ["sm2d100p","tsm2d100p","dtsm2d100p","sm3d100p","tsm3d100p","dtsm3d100p","Average"], "range": ["#26399a","#b01f2a","#0fa64a","#ffffff","#ffffff","#ffffff","#ffffff"]}}}},
     {"transform": [{"filter": {"field": "s", "oneOf": ["Average"]}}], "mark": {"type": "point", "shape": "M1,0A1,1,0,1,1,-1,0A1,1,0,1,1,1,0Z", "filled": true, "opacity": 1, "size": 100, "strokeWidth": 1, "clip": true},
      "encoding": {"fill": {"field": "s", "type": "nominal", "scale": {"domain": ["sm2d100p","tsm2d100p","dtsm2d100p","sm3d100p","tsm3d100p","dtsm3d100p","Average"], "range": ["#26399a","#b01f2a","#0fa64a","#ffffff","#ffffff","#ffffff","#ffffff"]}}}}
    ]
   }
  ]
 }
 ]
}
]
}
